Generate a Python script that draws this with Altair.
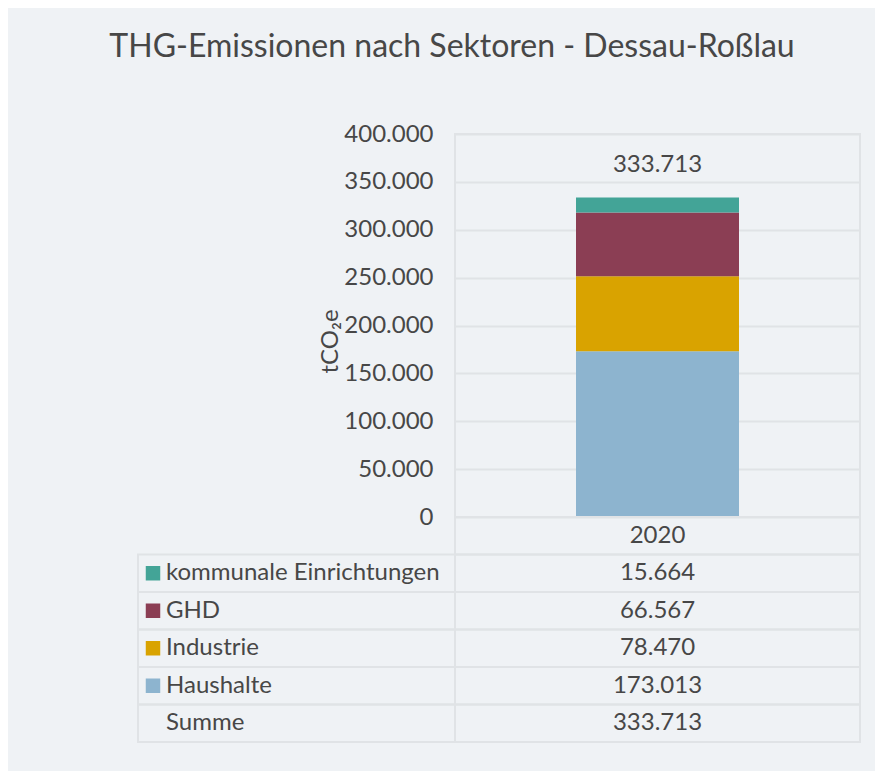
import altair as alt
import pandas as pd

# ---- data -------------------------------------------------------------
sektoren = ["Haushalte", "Industrie", "GHD", "kommunale Einrichtungen"]
werte_2020 = [173013, 78470, 66567, 15664]
summe_2020 = 333713  # as printed in the source (rounded values)
farben = ["#8DB4CF", "#D9A300", "#8B3E54", "#43A497"]
jahr = "2020"
tabellen_reihen = ["kommunale Einrichtungen", "GHD", "Industrie", "Haushalte", "Summe"]
y_ticks = [0, 50000, 100000, 150000, 200000, 250000, 300000, 350000, 400000]
titel = "THG-Emissionen nach Sektoren - Dessau-Roßlau"

# ---- derived tables ---------------------------------------------------


def fmt(v):
    return f"{v:,}".replace(",", ".")


werte_map = dict(zip(sektoren, werte_2020))
werte_map["Summe"] = summe_2020

bar_df = pd.DataFrame({"Sektor": sektoren, "Wert": werte_2020,
                       "ord": list(range(len(sektoren))), "Jahr": jahr})
tot_df = pd.DataFrame({"Jahr": [jahr], "Summe": [summe_2020], "label": [fmt(summe_2020)]})

row_order = ["kopf"] + tabellen_reihen
right_df = pd.DataFrame({"Reihe": row_order, "Jahr": jahr,
                         "Text": [jahr] + [fmt(werte_map[r]) for r in tabellen_reihen]})
left_df = pd.DataFrame({"Reihe": tabellen_reihen, "Text": tabellen_reihen})
legend_df = pd.DataFrame({"Reihe": sektoren, "Sektor": sektoren})

# ---- styles -----------------------------------------------------------
BG = "#EFF2F5"
GRID = "#E0E3E6"
TXT = "#474747"
FS = 24
LEFT_W = 317
RIGHT_W = 405
PLOT_H = 383
TABLE_H = 225

color_scale = alt.Scale(domain=sektoren, range=farben)
yscale = alt.Scale(domain=[0, 400000])
y_title = "tCO₂e"

# ---- top-left empty cell ---------------------------------------------
empty = alt.Chart(pd.DataFrame({"a": [0]})).mark_point(opacity=0, size=1).encode(
    x=alt.value(LEFT_W), y=alt.value(PLOT_H)
).properties(width=LEFT_W, height=PLOT_H, view=alt.ViewBackground(stroke="transparent"))

# ---- bar chart --------------------------------------------------------
bars = alt.Chart(bar_df).mark_bar(size=163).encode(
    x=alt.X("Jahr:N", axis=None),
    y=alt.Y("Wert:Q", stack="zero", scale=yscale,
            axis=alt.Axis(values=y_ticks, format=",d", title=y_title,
                          titleFontSize=FS, titleFontWeight="normal", titleColor=TXT,
                          titlePadding=1, titleY=207)),
    color=alt.Color("Sektor:N", scale=color_scale, legend=None),
    order=alt.Order("ord:Q", sort="ascending"),
)
total = alt.Chart(tot_df).mark_text(dy=-32, fontSize=FS, color=TXT, font="Lato").encode(
    x=alt.X("Jahr:N", axis=None),
    y=alt.Y("Summe:Q", scale=yscale, axis=alt.Axis(values=y_ticks, format=",d", title=y_title)),
    text="label:N",
)
bar_chart = alt.layer(bars, total).properties(
    width=RIGHT_W, height=PLOT_H, view=alt.ViewBackground(stroke=GRID, strokeWidth=2)
)

# ---- table ------------------------------------------------------------
yrow = alt.Y("Reihe:N", scale=alt.Scale(domain=row_order, paddingInner=0, paddingOuter=0),
             axis=None)

left_rects = alt.Chart(left_df).mark_rect(fillOpacity=0, stroke=GRID, strokeWidth=2).encode(y=yrow)
left_text = alt.Chart(left_df).mark_text(align="left", baseline="middle", fontSize=FS,
                                          color=TXT, font="Lato").encode(
    y=yrow, x=alt.value(28), text="Text:N")
left_sq = alt.Chart(legend_df).mark_square(size=210, opacity=1).encode(
    y=yrow, x=alt.value(15), color=alt.Color("Sektor:N", scale=color_scale, legend=None))
left_table = alt.layer(left_rects, left_sq, left_text).properties(
    width=LEFT_W, height=TABLE_H, view=alt.ViewBackground(stroke="transparent"))

right_rects = alt.Chart(right_df).mark_rect(fillOpacity=0, stroke=GRID, strokeWidth=2).encode(y=yrow)
right_text = alt.Chart(right_df).mark_text(baseline="middle", fontSize=FS, color=TXT,
                                           font="Lato").encode(
    y=yrow, x=alt.X("Jahr:N", axis=None), text="Text:N")
right_table = alt.layer(right_rects, right_text).properties(
    width=RIGHT_W, height=TABLE_H, view=alt.ViewBackground(stroke="transparent"))

# ---- assemble ---------------------------------------------------------
chart = alt.concat(
    empty, bar_chart, left_table, right_table, columns=2, spacing=0, bounds="flush"
).properties(
    title=alt.TitleParams(titel, fontSize=32, font="Lato", fontWeight="normal", color=TXT,
                          anchor="middle", dx=-47, offset=57),
    padding={"left": 101, "top": 23, "right": 13, "bottom": 27},
    background=BG,
).configure(
    font="Lato",
    locale=alt.Locale(number=alt.NumberLocale(decimal=",", thousands=".", grouping=[3],
                                              currency=["", " €"])),
).configure_axis(
    labelFontSize=FS, labelColor=TXT, labelFont="Lato", domain=False, ticks=False,
    gridColor=GRID, gridWidth=2, labelPadding=22,
)

chart.save("out.html", embed_options={"renderer": "svg", "actions": False})
